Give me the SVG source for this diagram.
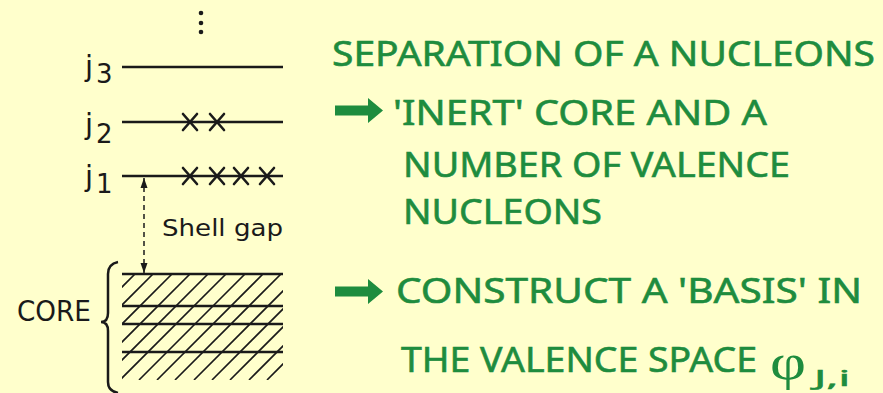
<svg xmlns="http://www.w3.org/2000/svg" width="883" height="393" viewBox="0 0 883 393">
<defs>
<style>
.bg{fill:#FFFFCC}
.lvl{stroke:#1a1a1a;stroke-width:2.5;fill:none}
.x{stroke:#1a1a1a;stroke-width:2.6;fill:none;stroke-linecap:round}
.hatch{stroke:#1a1a1a;stroke-width:1.6;fill:none}
.lbl{font-family:"DejaVu Sans",sans-serif;fill:#1a1a1a}
.g{font-family:"Noto Sans",sans-serif;font-size:35px;fill:#1E8C3E;stroke:#1E8C3E;stroke-width:0.6}
.phi{font-family:"Liberation Serif",serif;font-size:50px;fill:#1E8C3E}
.sub{font-family:"Noto Sans",sans-serif;font-size:22px;fill:#1E8C3E;stroke:#1E8C3E;stroke-width:0.5}
.ga{fill:#1E8C3E}
.conn{stroke:#1a1a1a;stroke-width:1.5;stroke-dasharray:5 4;fill:none}
</style>
<marker id="ah" viewBox="0 0 10 10" refX="10" refY="5" markerWidth="10" markerHeight="10" orient="auto-start-reverse" markerUnits="userSpaceOnUse">
<path d="M0,1.5 L10,5 L0,8.5 z" fill="#1a1a1a"/>
</marker>
<clipPath id="hc"><rect x="122" y="274" width="161" height="106"/></clipPath>
<g id="xmark"><path class="x" d="M-7,-8 L7,8 M7,-8 L-7,8"/></g>
</defs>
<rect class="bg" x="0" y="0" width="883" height="393"/>

<g id="dots" fill="#1a1a1a">
<circle cx="201" cy="13" r="2.3"/><circle cx="201" cy="23" r="2.3"/><circle cx="201" cy="32" r="2.3"/>
</g>

<g id="level-j3">
<line class="lvl" x1="122" y1="67" x2="283" y2="67"/>
<text class="lbl" x="85" y="76" font-size="29">j</text>
<text class="lbl" x="96" y="83" font-size="26">3</text>
</g>

<g id="level-j2">
<line class="lvl" x1="122" y1="122" x2="283" y2="122"/>
<use href="#xmark" x="190" y="122"/><use href="#xmark" x="217" y="122"/>
<text class="lbl" x="85" y="134" font-size="29">j</text>
<text class="lbl" x="96" y="143" font-size="26">2</text>
</g>

<g id="level-j1">
<line class="lvl" x1="122" y1="176" x2="283" y2="176"/>
<use href="#xmark" x="190" y="176"/><use href="#xmark" x="217" y="176"/>
<use href="#xmark" x="241" y="176"/><use href="#xmark" x="267" y="176"/>
<text class="lbl" x="85" y="186" font-size="29">j</text>
<text class="lbl" x="96" y="193" font-size="26">1</text>
</g>

<g id="core">
<g clip-path="url(#hc)">
<path class="hatch" d="M29,380 L135,274 M47,380 L153,274 M66,380 L172,274 M84,380 L190,274 M102,380 L208,274 M120,380 L226,274 M139,380 L245,274 M157,380 L263,274 M175,380 L281,274 M194,380 L300,274 M212,380 L318,274 M230,380 L336,274 M249,380 L355,274 M267,380 L373,274"/>
</g>
<line class="lvl" x1="122" y1="274" x2="283" y2="274"/>
<line class="lvl" x1="122" y1="306" x2="283" y2="306"/>
<line class="lvl" x1="122" y1="324" x2="283" y2="324"/>
<line class="lvl" x1="122" y1="352" x2="283" y2="352"/>
<path class="lvl" d="M118,262 Q108,264 108,274 L108,313 Q108,322 101,322 Q108,322 108,331 L108,382 Q108,391 118,393"/>
<text class="lbl" x="17" y="321" font-size="28" textLength="74" lengthAdjust="spacingAndGlyphs">CORE</text>
</g>

<g id="connectors">
<line class="conn" x1="144" y1="178" x2="144" y2="273" marker-start="url(#ah)" marker-end="url(#ah)"/>
</g>

<g id="shell-gap">
<text class="lbl" x="162" y="236" font-size="23" textLength="121" lengthAdjust="spacingAndGlyphs">Shell gap</text>
</g>

<g id="text-separation">
<text class="g" x="332" y="66" textLength="543" lengthAdjust="spacingAndGlyphs">SEPARATION OF A NUCLEONS</text>
</g>

<g id="text-inert">
<path class="ga" d="M335,105.5 L368,105.5 L368,98 L383,110.5 L368,123 L368,115.5 L335,115.5 z"/>
<text class="g" x="393" y="125" textLength="374" lengthAdjust="spacingAndGlyphs">'INERT' CORE AND A</text>
<text class="g" x="403" y="177" textLength="387" lengthAdjust="spacingAndGlyphs">NUMBER OF VALENCE</text>
<text class="g" x="403" y="224" textLength="199" lengthAdjust="spacingAndGlyphs">NUCLEONS</text>
</g>

<g id="text-basis">
<path class="ga" d="M335,286.5 L368,286.5 L368,279 L383,291.5 L368,304 L368,296.5 L335,296.5 z"/>
<text class="g" x="396" y="303" textLength="466" lengthAdjust="spacingAndGlyphs">CONSTRUCT A 'BASIS' IN</text>
<text class="g" x="401" y="372" textLength="356" lengthAdjust="spacingAndGlyphs">THE VALENCE SPACE</text>
<text class="phi" x="770" y="379" textLength="36" lengthAdjust="spacingAndGlyphs">φ</text>
<text class="sub" x="814" y="386" textLength="36" lengthAdjust="spacingAndGlyphs">J,i</text>
</g>
</svg>
